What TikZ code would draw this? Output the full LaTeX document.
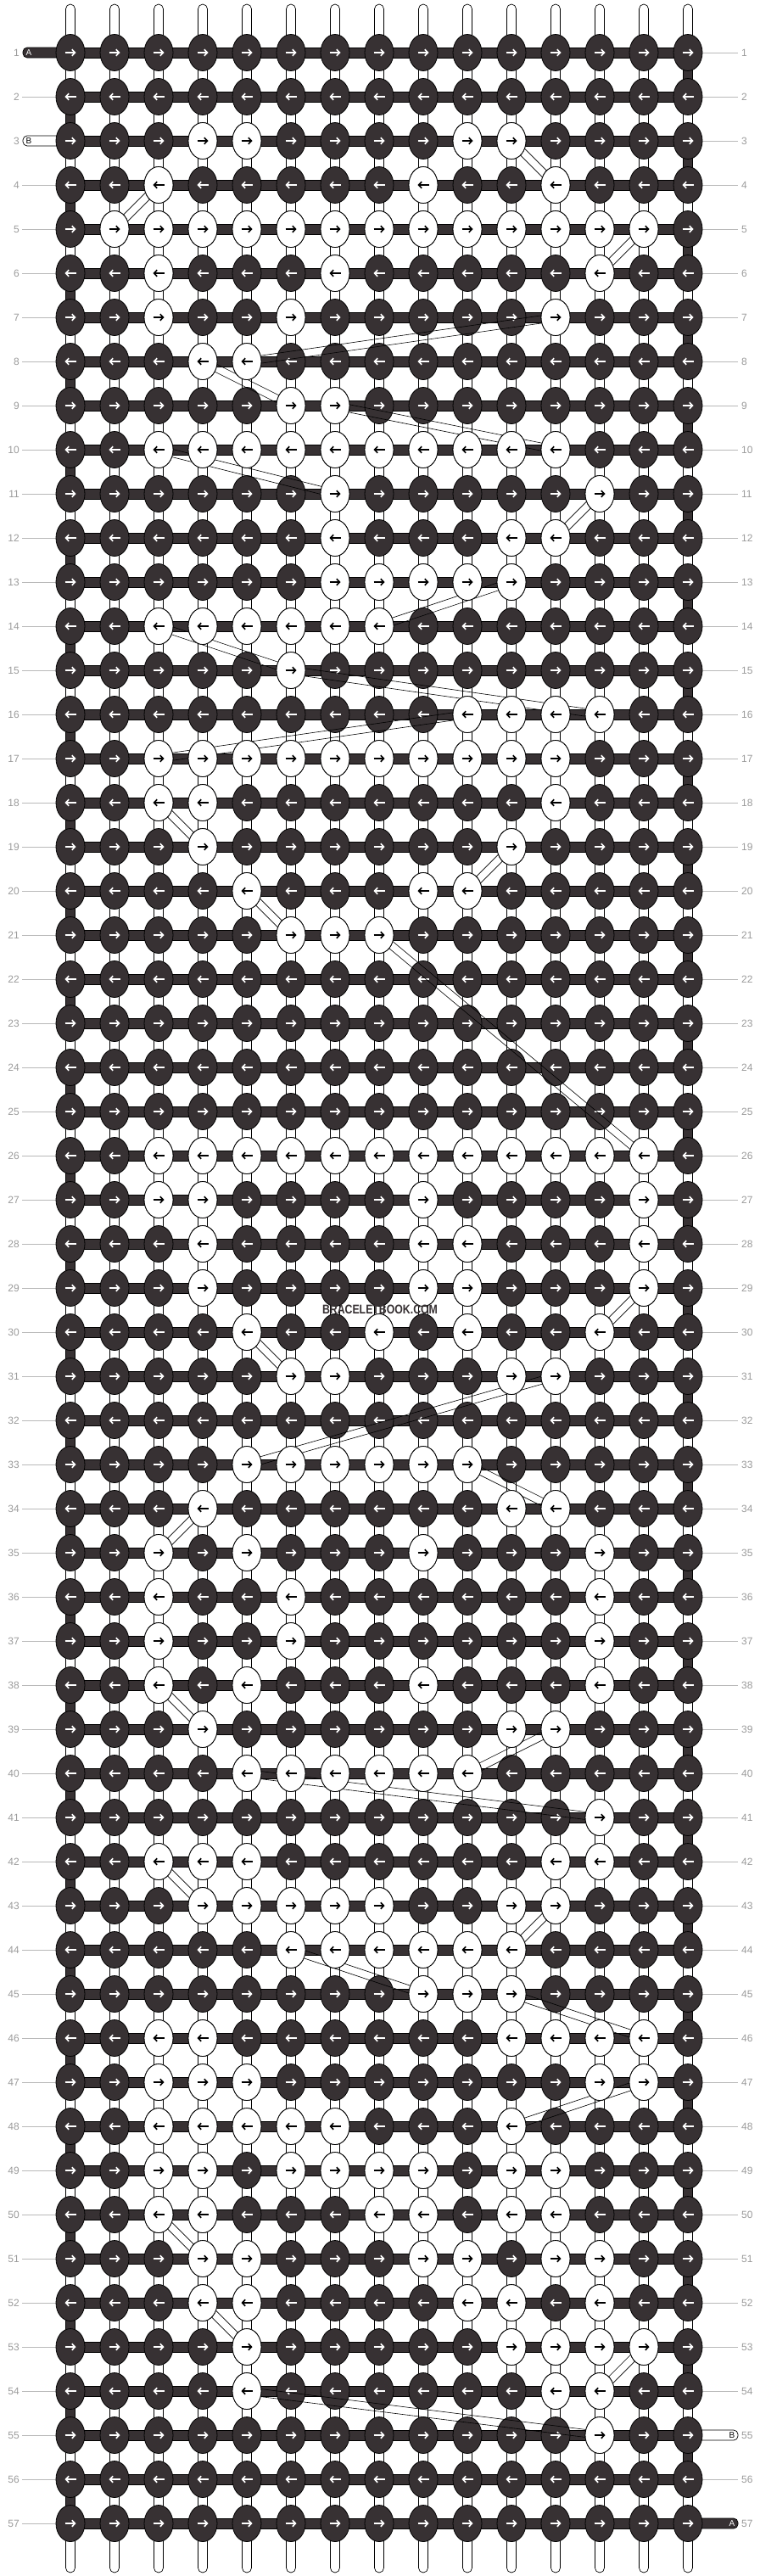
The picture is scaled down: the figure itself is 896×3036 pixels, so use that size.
\documentclass[tikz,border=0pt]{standalone}
\usepackage{fontspec}
\setmainfont{Liberation Sans}
\usetikzlibrary{arrows.meta, calc, shapes.geometric}

\definecolor{knotdark}{RGB}{55,49,51}
\definecolor{labelgray}{RGB}{155,155,155}
\definecolor{linegray}{RGB}{185,185,185}

\begin{document}
\begin{tikzpicture}[x=1pt, y=-1pt,
    string/.style={draw=black, fill=white, line width=0.7pt, rounded corners=5.5pt},
    bar/.style={draw=black, fill=knotdark, line width=0.7pt},
    knotD/.style={ellipse, draw=black, line width=0.8pt, fill=knotdark, minimum width=34pt, minimum height=43pt, inner sep=0pt},
    knotW/.style={knotD, fill=white},
    arrR/.style={-{Straight Barb[length=3.5pt, width=7.5pt]}, line width=1.7pt},
    carry/.style={draw=black, line width=0.6pt},
    rowlabel/.style={text=labelgray, font=\fontsize{12}{12}\selectfont, inner sep=0pt},
    rowline/.style={draw=linegray, line width=0.8pt},
    endtag/.style={font=\fontsize{10}{10}\selectfont, inner sep=0pt}
]

% canvas
\useasboundingbox (0,0) rectangle (896,3036);
\fill[white] (0,0) rectangle (896,3036);

% vertical base strings
\foreach \c in {1,...,15}
  \draw[string] ({31+52*\c-5.5},5) rectangle ({31+52*\c+5.5},3032);

% knotting thread along each row
\foreach \r in {1,...,57}
  \draw[bar] (83,{4+52*\r}) rectangle (811,{16+52*\r});

% turns of the thread at the edges
\foreach \r in {2,4,...,56}
  \draw[bar] (77.5,{10+52*\r}) rectangle (88.5,{62+52*\r});
\foreach \r in {1,3,...,55}
  \draw[bar] (805.5,{10+52*\r}) rectangle (816.5,{62+52*\r});

% free ends A and B
\draw[bar, rounded corners=5pt] (27,56) rectangle (83,68);
\node[endtag, text=white] (endA1) at (34,62) {A};
\draw[string, rounded corners=5pt] (27,160) rectangle (83,172);
\node[endtag] (endB1) at (34,166) {B};
\draw[string, rounded corners=5pt] (811,2864) rectangle (870,2876);
\node[endtag] (endB2) at (863,2870) {B};
\draw[bar, rounded corners=5pt] (811,2968) rectangle (870,2980);
\node[endtag, text=white] (endA2) at (863,2974) {A};

% row numbers
\foreach \r in {1,...,57} {
  \node[rowlabel, anchor=east] (numL-\r) at (23,{10+52*\r}) {\r};
  \node[rowlabel, anchor=west] (numR-\r) at (874,{10+52*\r}) {\r};
}
\foreach \r in {2,...,57} {
  \ifnum\r=3 \else \draw[rowline] (26,{10+52*\r}) -- (66,{10+52*\r}); \fi
}
\foreach \r in {1,...,56} {
  \ifnum\r=55 \else \draw[rowline] (828,{10+52*\r}) -- (870,{10+52*\r}); \fi
}

% all knots, dark
\foreach \r in {1,...,57}
  \foreach \c in {1,...,15} {
    \node[knotD] (k-\r-\c) at ({31+52*\c},{10+52*\r}) {};
    \ifodd\r
      \draw[arrR, white] ([xshift=-6.5pt]k-\r-\c.center) -- ([xshift=6.5pt]k-\r-\c.center);
    \else
      \draw[arrR, white] ([xshift=6.5pt]k-\r-\c.center) -- ([xshift=-6.5pt]k-\r-\c.center);
    \fi
  }

% thread B carried behind
\foreach \ra/\ca/\rb/\cb in {3/11/4/12, 4/3/5/2, 5/14/6/13, 7/12/8/5, 8/4/9/6,
    9/7/10/12, 10/3/11/7, 11/13/12/12, 13/11/14/8, 14/3/15/6, 15/6/16/13,
    16/10/17/3, 18/3/19/4, 19/11/20/10, 20/5/21/6, 21/8/26/14, 29/14/30/13,
    30/5/31/6, 31/12/33/5, 33/10/34/12, 34/4/35/3, 38/3/39/4, 39/12/40/10,
    40/5/41/13, 42/3/43/4, 43/12/44/11, 44/6/45/9, 45/11/46/14, 47/14/48/11,
    50/3/51/4, 52/4/53/5, 53/14/54/13, 54/5/55/13} {
  \draw[carry] ($(k-\ra-\ca.center)!4.5pt!90:(k-\rb-\cb.center)$) -- ($(k-\rb-\cb.center)!4.5pt!-90:(k-\ra-\ca.center)$);
  \draw[carry] ($(k-\ra-\ca.center)!4.5pt!-90:(k-\rb-\cb.center)$) -- ($(k-\rb-\cb.center)!4.5pt!90:(k-\ra-\ca.center)$);
}

% white knots
\foreach \r/\cols in {3/{4,5,10,11}, 4/{3,9,12}, 5/{2,...,14}, 6/{3,7,13},
    7/{3,6,12}, 8/{4,5}, 9/{6,7}, 10/{3,...,12}, 11/{7,13}, 12/{7,11,12},
    13/{7,...,11}, 14/{3,...,8}, 15/{6}, 16/{10,...,13}, 17/{3,...,12},
    18/{3,4,12}, 19/{4,11}, 20/{5,9,10}, 21/{6,7,8}, 26/{3,...,14},
    27/{3,4,9,14}, 28/{4,9,10,14}, 29/{4,9,10,14}, 30/{5,8,10,13},
    31/{6,7,11,12}, 33/{5,...,10}, 34/{4,11,12}, 35/{3,5,9,13}, 36/{3,6,13},
    37/{3,6,13}, 38/{3,5,9,13}, 39/{4,11,12}, 40/{5,...,10}, 41/{13},
    42/{3,4,5,12,13}, 43/{4,5,6,7,8,11,12}, 44/{6,...,11}, 45/{9,10,11},
    46/{3,4,11,12,13,14}, 47/{3,4,5,13,14}, 48/{3,4,5,6,7,11},
    49/{3,4,6,7,8,9,11,12}, 50/{3,4,8,9,11,12}, 51/{4,5,9,10,12,13},
    52/{4,5,10,11,13}, 53/{5,11,12,13,14}, 54/{5,12,13}, 55/{13}}
  \foreach \c in \cols {
    \node[knotW] (k-\r-\c) at ({31+52*\c},{10+52*\r}) {};
    \ifodd\r
      \draw[arrR, black] ([xshift=-6.5pt]k-\r-\c.center) -- ([xshift=6.5pt]k-\r-\c.center);
    \else
      \draw[arrR, black] ([xshift=6.5pt]k-\r-\c.center) -- ([xshift=-6.5pt]k-\r-\c.center);
    \fi
  }

% site mark
\node[font=\bfseries\fontsize{15}{15}\selectfont, text=knotdark, inner sep=0pt] (mark) at (448,1543) {\scalebox{0.82}[1]{BRACELETBOOK.COM}};

\end{tikzpicture}
\end{document}
